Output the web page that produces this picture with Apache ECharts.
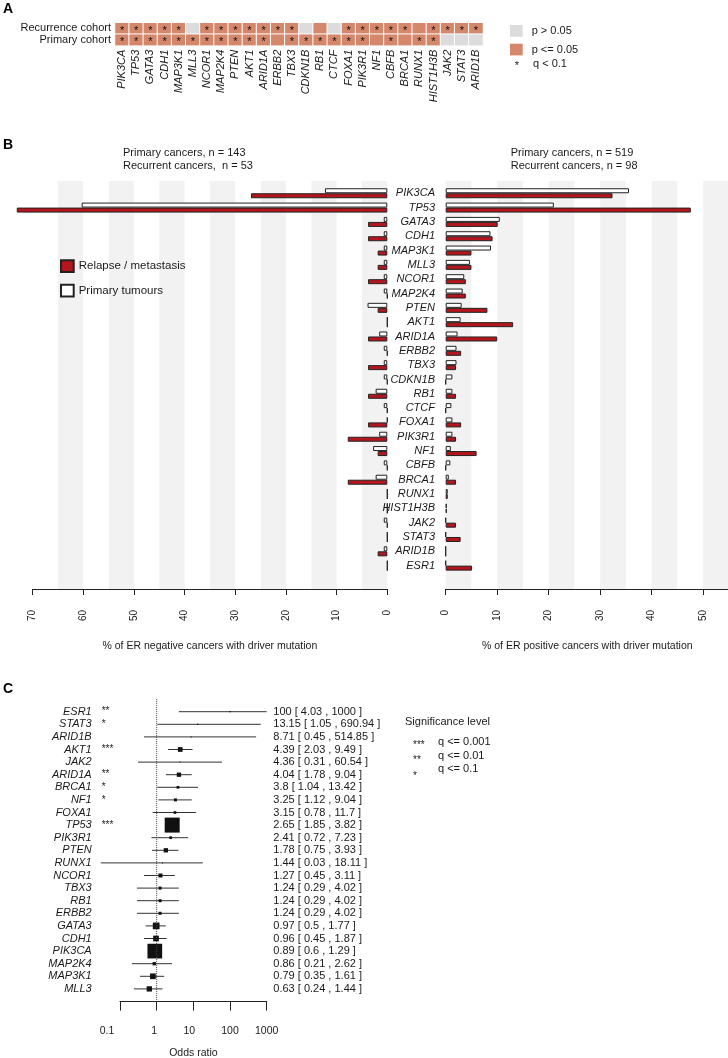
<!DOCTYPE html>
<html><head><meta charset="utf-8">
<script src="https://cdn.jsdelivr.net/npm/echarts@6/dist/echarts.min.js"></script>
<style>html,body{margin:0;padding:0;background:#fff}#wrap{position:relative;width:728px;height:1058px}.layer{position:absolute;left:0;top:0;width:728px;height:1058px}</style>
</head><body><div id="wrap"><div id="cA" class="layer"></div><div id="cB" class="layer"></div><div id="cC" class="layer"></div></div>
<script>
// ---------- Panel A: heatmap ----------
const genesA = ['PIK3CA','TP53','GATA3','CDH1','MAP3K1','MLL3','NCOR1','MAP2K4','PTEN','AKT1','ARID1A','ERBB2','TBX3','CDKN1B','RB1','CTCF','FOXA1','PIK3R1','NF1','CBFB','BRCA1','RUNX1','HIST1H3B','JAK2','STAT3','ARID1B'];
const cohorts = ['Primary cohort','Recurrence cohort'];
const recurrenceSig = [1,1,1,1,1,0,1,1,1,1,1,1,1,0,1,0,1,1,1,1,1,1,1,1,1,1];
const recurrenceQ   = [1,1,1,1,1,0,1,1,1,1,1,1,1,0,0,0,1,1,1,1,1,0,1,1,1,1];
const primarySig    = [1,1,1,1,1,1,1,1,1,1,1,1,1,1,1,1,1,1,1,1,1,1,1,0,0,0];
const primaryQ      = [1,1,1,1,1,1,1,1,1,1,1,0,1,1,1,1,1,1,0,1,0,1,1,0,0,0];

// ---------- Panel B: mutation frequencies (%) ----------
const genesB = ['PIK3CA','TP53','GATA3','CDH1','MAP3K1','MLL3','NCOR1','MAP2K4','PTEN','AKT1','ARID1A','ERBB2','TBX3','CDKN1B','RB1','CTCF','FOXA1','PIK3R1','NF1','CBFB','BRCA1','RUNX1','HIST1H3B','JAK2','STAT3','ARID1B','ESR1'];
const erNegPrimary = [12.3,60.3,0.7,0.7,0.7,0.7,0.7,0.7,3.9,0,1.6,0.7,0.7,0.7,2.3,0.7,0,1.6,2.8,0.7,2.3,0,0,0.7,0,0.7,0];
const erNegRelapse = [26.9,73.1,3.8,3.8,1.9,1.9,3.8,0,1.9,0,3.8,0,3.8,0,3.8,0,3.8,7.8,1.9,0,7.8,0,0,0,0,1.9,0];
const erPosPrimary = [35.6,21.0,10.5,8.7,8.8,4.7,3.6,3.3,3.1,2.9,2.3,2.1,2.1,1.3,1.3,1.1,1.3,1.3,1.0,0.9,0.6,0.4,0.2,0,0,0,0];
const erPosRelapse = [32.4,47.6,10.1,9.1,5.0,5.0,3.9,3.9,8.1,13.1,10.0,3.0,2.0,0,2.0,0,3.0,2.0,6.0,0,2.0,0.4,0.2,2.0,2.9,0,5.1];

// ---------- Panel C: odds ratios ----------
const forestGenes = ['ESR1','STAT3','ARID1B','AKT1','JAK2','ARID1A','BRCA1','NF1','FOXA1','TP53','PIK3R1','PTEN','RUNX1','NCOR1','TBX3','RB1','ERBB2','GATA3','CDH1','PIK3CA','MAP2K4','MAP3K1','MLL3'];
const oddsRatio = [100,13.15,8.71,4.39,4.36,4.04,3.8,3.25,3.15,2.65,2.41,1.78,1.44,1.27,1.24,1.24,1.24,0.97,0.96,0.89,0.86,0.79,0.63];
const ciLow  = [4.03,1.05,0.45,2.03,0.31,1.78,1.04,1.12,0.78,1.85,0.72,0.75,0.03,0.45,0.29,0.29,0.29,0.5,0.45,0.6,0.21,0.35,0.24];
const ciHigh = [1000,690.94,514.85,9.49,60.54,9.04,13.42,9.04,11.7,3.82,7.23,3.93,18.11,3.11,4.02,4.02,4.02,1.77,1.87,1.29,2.62,1.61,1.44];
const sigStars = ['**','*','','***','','**','*','*','','***','','','','','','','','','','','','',''];
const boxSize = [1.3,1.3,1,4.7,1,4.3,2.7,3,2.7,15,2.7,4.3,1,4,3,3,3,6.7,5.7,14.7,3.3,5.7,5.3];
const nullOddsRatio = 1;

const FONT = "'Liberation Sans', Arial, sans-serif";
const TXT = '#1a1a1a';
const ORANGE = '#d4876a', GREY = '#dcdcdc', RED = '#b5161d', BAND = '#f2f2f2';
const hidden = {show:false};
const noLine = {show:false, onZero:false};
function txt(x, y, s, size, extra) {
  return Object.assign({type:'text', x:x, y:y, style:{text:s, font:(size || 11) + 'px ' + FONT, fill:TXT, verticalAlign:'middle'}}, extra || {});
}

// ================= Chart A =================
const heatData = [];
genesA.forEach((g, i) => {
  heatData.push([i, 1, recurrenceSig[i], recurrenceQ[i]]);
  heatData.push([i, 0, primarySig[i], primaryQ[i]]);
});
try {
const chartA = echarts.init(document.getElementById('cA'), null, {renderer:'canvas'});
chartA.setOption({
  animation:false,
  textStyle:{fontFamily:FONT, color:TXT},
  grid:[{left:115, top:22.7, width:368, height:23, outerBoundsMode:'none'}],
  xAxis:[{type:'category', data:genesA, position:'bottom', axisLine:noLine, axisTick:hidden, splitLine:hidden,
    axisLabel:{interval:0, rotate:90, margin:4, fontSize:11, fontStyle:'italic', color:TXT, fontFamily:FONT}}],
  yAxis:[{type:'category', data:cohorts, axisLine:noLine, axisTick:hidden, splitLine:hidden,
    axisLabel:{interval:0, margin:4, fontSize:11, color:TXT, fontFamily:FONT}}],
  visualMap:{type:'piecewise', seriesIndex:0, dimension:2, orient:'vertical', left:510, top:25, align:'left', inverse:true,
    pieces:[{value:0, label:'p > 0.05', color:GREY},{value:1, label:'p <= 0.05', color:ORANGE}],
    itemWidth:12.7, itemHeight:11.7, itemGap:7, itemSymbol:'rect', textGap:9, selectedMode:false, padding:0,
    textStyle:{fontSize:11, color:TXT, fontFamily:FONT}},
  graphic:[
    {type:'text', left:3, top:2, style:{text:'A', font:'bold 14px ' + FONT, fill:'#000'}},
    txt(517, 66, '*', 11, {style:{text:'*', font:'11px ' + FONT, fill:TXT, align:'center', verticalAlign:'middle'}}),
    txt(533, 64, 'q < 0.1', 11)
  ],
  series:[{type:'heatmap', data:heatData,
    itemStyle:{borderColor:'#fff', borderWidth:1},
    label:{show:true, formatter:p => p.data[3] ? '*' : '', fontSize:11, color:'#111', offset:[0,2.5], fontFamily:FONT},
    emphasis:{disabled:true}}]
});
} catch (e) { console.error('A', e); }

// ================= Chart B =================
try {
const chartB = echarts.init(document.getElementById('cB'), null, {renderer:'canvas'});
const barCommon = {type:'bar', barWidth:5, barGap:'0%', clip:false};
chartB.setOption({
  animation:false,
  textStyle:{fontFamily:FONT, color:TXT},
  grid:[
    {left:32.5, top:181, width:354.8, height:408, outerBoundsMode:'none'},
    {left:32.5, top:186.1, width:354.8, height:386.7, outerBoundsMode:'none'},
    {left:445.7, top:181, width:283.2, height:408, outerBoundsMode:'none'},
    {left:445.7, top:186.1, width:283.2, height:386.7, outerBoundsMode:'none'}
  ],
  xAxis:[
    {type:'value', gridIndex:0, min:0, max:70, interval:5, inverse:true, position:'top', axisLine:noLine, axisTick:hidden, axisLabel:hidden, splitLine:hidden,
      splitArea:{show:true, areaStyle:{color:[BAND,'#ffffff']}}},
    {type:'value', gridIndex:0, min:0, max:70, interval:10, inverse:true, position:'bottom',
      axisLine:{show:true, onZero:false, lineStyle:{color:'#222', width:1}}, axisTick:{show:true, length:6, lineStyle:{color:'#222', width:1}},
      axisLabel:{rotate:90, margin:21, fontSize:10, color:TXT, fontFamily:FONT}, splitLine:hidden,
      name:'% of ER negative cancers with driver mutation', nameLocation:'middle', nameGap:52, nameTextStyle:{fontSize:10.5, color:TXT, fontFamily:FONT}},
    {type:'value', gridIndex:1, min:0, max:70, inverse:true, show:false},
    {type:'value', gridIndex:2, min:0, max:55, interval:5, position:'top', axisLine:noLine, axisTick:hidden, axisLabel:hidden, splitLine:hidden,
      splitArea:{show:true, areaStyle:{color:[BAND,'#ffffff']}}},
    {type:'value', gridIndex:2, min:0, max:55, interval:10, position:'bottom',
      axisLine:{show:true, onZero:false, lineStyle:{color:'#222', width:1}}, axisTick:{show:true, length:6, lineStyle:{color:'#222', width:1}},
      axisLabel:{rotate:90, margin:21, fontSize:10, color:TXT, fontFamily:FONT, showMaxLabel:false}, splitLine:hidden,
      name:'% of ER positive cancers with driver mutation', nameLocation:'middle', nameGap:52, nameTextStyle:{fontSize:10.5, color:TXT, fontFamily:FONT}},
    {type:'value', gridIndex:3, min:0, max:55, show:false}
  ],
  yAxis:[
    {type:'value', gridIndex:0, min:0, max:1, show:false},
    {type:'category', gridIndex:1, data:genesB, inverse:true, show:false},
    {type:'value', gridIndex:2, min:0, max:1, show:false},
    {type:'category', gridIndex:3, data:genesB, inverse:true, axisLine:noLine, axisTick:hidden, splitLine:hidden,
      axisLabel:{interval:0, margin:10.7, fontSize:11, fontStyle:'italic', color:TXT, fontFamily:FONT}}
  ],
  legend:{data:['Relapse / metastasis','Primary tumours'], orient:'vertical', left:60, top:259.3, padding:0,
    itemWidth:12.7, itemHeight:11.7, itemGap:10.7, icon:'rect', selectedMode:false,
    textStyle:{fontSize:11.5, color:TXT, fontFamily:FONT}},
  graphic:[
    {type:'text', left:3, top:138, style:{text:'B', font:'bold 14px ' + FONT, fill:'#000'}},
    txt(123, 153, 'Primary cancers, n = 143'),
    txt(123, 166, 'Recurrent cancers,  n = 53'),
    txt(510.7, 153, 'Primary cancers, n = 519'),
    txt(510.7, 166, 'Recurrent cancers, n = 98')
  ],
  series:[
    Object.assign({name:'Primary tumours', xAxisIndex:2, yAxisIndex:1, data:erNegPrimary,
      itemStyle:{color:'#ffffff', borderColor:'#222', borderWidth:1}}, barCommon),
    Object.assign({name:'Relapse / metastasis', xAxisIndex:2, yAxisIndex:1, data:erNegRelapse,
      itemStyle:{color:RED, borderColor:'#222', borderWidth:1}}, barCommon),
    Object.assign({name:'Primary tumours', xAxisIndex:5, yAxisIndex:3, data:erPosPrimary,
      itemStyle:{color:'#ffffff', borderColor:'#222', borderWidth:1}}, barCommon),
    Object.assign({name:'Relapse / metastasis', xAxisIndex:5, yAxisIndex:3, data:erPosRelapse,
      itemStyle:{color:RED, borderColor:'#222', borderWidth:1}}, barCommon)
  ]
});
} catch (e) { console.error('B', e); }

// ================= Chart C =================
try {
const forestCats = [' '].concat(forestGenes, ['  ']);
const forestData = forestGenes.map((g, i) => [ciLow[i], ciHigh[i], oddsRatio[i], i + 1, boxSize[i]]);
const chartC = echarts.init(document.getElementById('cC'), null, {renderer:'canvas'});
chartC.setOption({
  animation:false,
  textStyle:{fontFamily:FONT, color:TXT},
  grid:[
    {left:83.3, top:699.1, width:183.4, height:302.4, outerBoundsMode:'none'},
    {left:120, top:1000, width:146.7, height:1.6, outerBoundsMode:'none'}
  ],
  xAxis:[
    {type:'log', logBase:10, gridIndex:0, min:0.01, max:1000, show:false},
    {type:'log', logBase:10, gridIndex:1, min:0.1, max:1000, position:'bottom',
      axisLine:{show:true, onZero:false, lineStyle:{color:'#222', width:1}}, axisTick:{show:true, length:9, lineStyle:{color:'#222', width:1}},
      axisLabel:{margin:24, fontSize:10.5, color:TXT, fontFamily:FONT,
        formatter:v => {
          const s = String(+Number(v).toPrecision(6));
          if (s === '0.1') return '{a|' + s + '}';
          if (s === '1') return '{b|' + s + '}';
          if (s === '10') return '{c|' + s + '}';
          return s;
        },
        rich:{a:{padding:[0,26,0,0], fontSize:10.5}, b:{padding:[0,5,0,0], fontSize:10.5}, c:{padding:[0,8,0,0], fontSize:10.5}}},
      splitLine:hidden, minorTick:hidden,
      name:'Odds ratio', nameLocation:'middle', nameGap:46, nameTextStyle:{fontSize:10.5, color:TXT, fontFamily:FONT}}
  ],
  yAxis:[
    {type:'category', gridIndex:0, data:forestCats, inverse:true, boundaryGap:false, position:'left', axisLine:noLine, axisTick:hidden, splitLine:hidden,
      axisLabel:{interval:0, margin:-8.4, fontSize:11, fontStyle:'italic', color:TXT, fontFamily:FONT, formatter:v => v.trim()}},
    {type:'category', gridIndex:0, data:forestCats, inverse:true, boundaryGap:false, position:'left', axisLine:noLine, axisTick:hidden, splitLine:hidden,
      axisLabel:{interval:0, margin:-18.4, align:'left', fontSize:10, color:TXT, fontFamily:FONT,
        formatter:(v, i) => (i >= 1 && i <= forestGenes.length) ? sigStars[i-1] : ''}},
    {type:'category', gridIndex:0, data:forestCats, inverse:true, boundaryGap:false, position:'right', axisLine:noLine, axisTick:hidden, splitLine:hidden,
      axisLabel:{interval:0, margin:6.6, align:'left', fontSize:11, color:TXT, fontFamily:FONT,
        formatter:(v, i) => (i >= 1 && i <= forestGenes.length) ? (oddsRatio[i-1] + ' [ ' + ciLow[i-1] + ' , ' + ciHigh[i-1] + ' ]') : ''}},
    {type:'value', gridIndex:1, min:0, max:1, show:false}
  ],
  graphic:[
    {type:'text', left:3, top:682, style:{text:'C', font:'bold 14px ' + FONT, fill:'#000'}},
    txt(405, 722, 'Significance level'),
    txt(413, 745, '***', 10), txt(413, 760, '**', 10), txt(413, 776, '*', 10),
    txt(438, 742, 'q <= 0.001'), txt(438, 755.5, 'q <= 0.01'), txt(438, 769, 'q <= 0.1')
  ],
  series:[
    {type:'line', xAxisIndex:0, yAxisIndex:0, data:[[nullOddsRatio, 0], [nullOddsRatio, forestCats.length - 1]],
      symbol:'none', silent:true, lineStyle:{type:'dotted', color:'#444', width:1}},
    {type:'custom', xAxisIndex:0, yAxisIndex:0, data:forestData, clip:false,
      encode:{x:[0,1,2], y:3},
      renderItem:function(params, api){
        const lo = api.value(0), hi = api.value(1), est = api.value(2), y = api.value(3), s = api.value(4);
        const p1 = api.coord([lo, y]), p2 = api.coord([hi, y]), pc = api.coord([est, y]);
        return {type:'group', children:[
          {type:'line', shape:{x1:p1[0], y1:p1[1], x2:p2[0], y2:p2[1]}, style:{stroke:'#333', lineWidth:1}},
          {type:'rect', shape:{x:pc[0]-s/2, y:pc[1]-s/2, width:s, height:s}, style:{fill:'#111'}}
        ]};
      }}
  ]
});
} catch (e) { console.error('C', e); }
</script></body></html>
